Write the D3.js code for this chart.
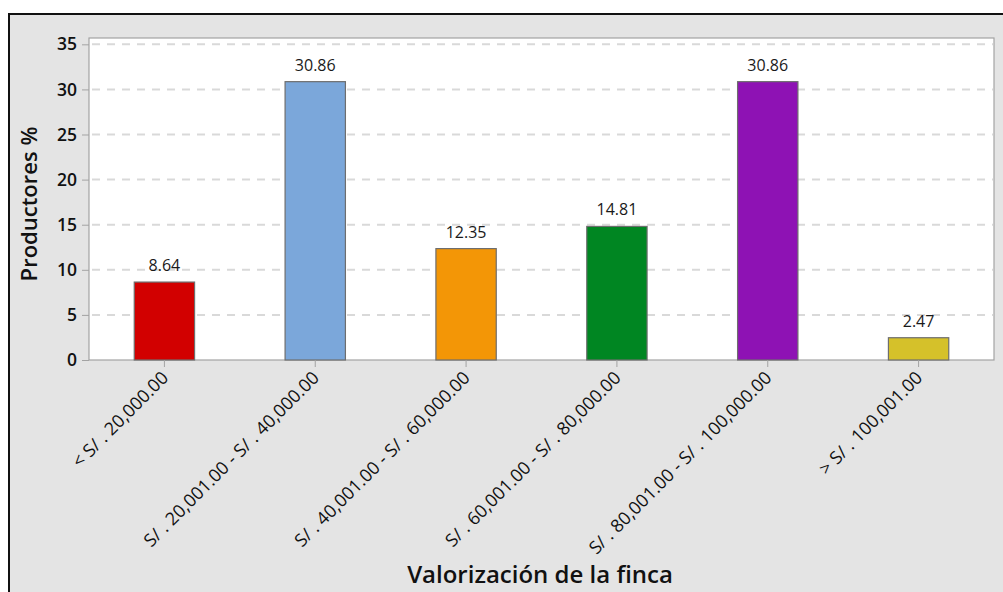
<!DOCTYPE html>
<html lang="es">
<head>
<meta charset="UTF-8">
<title>Valorización de la finca</title>
<script src="https://cdn.jsdelivr.net/npm/d3@7"></script>
<style>
  body { margin: 0; background: #fff; }
  svg { display: block; font-family: "Open Sans", "Noto Sans", sans-serif; }
</style>
</head>
<body>
<svg id="chart" width="1003" height="592"></svg>
<script>
// data
const categories = [
    "< S/ . 20,000.00",
    "S/ . 20,001.00 - S/ . 40,000.00",
    "S/ . 40,001.00 - S/ . 60,000.00",
    "S/ . 60,001.00 - S/ . 80,000.00",
    "S/ . 80,001.00 - S/ . 100,000.00",
    "> S/ . 100,001.00"
];
const values = [8.64, 30.86, 12.35, 14.81, 30.86, 2.47];
const barColors = ["#d20000", "#7ba7da", "#f39606", "#008622", "#8e12b4", "#d5c12a"];
const yTicks = [0, 5, 10, 15, 20, 25, 30, 35];

const svg = d3.select('#chart');
const plot = { left: 89, right: 994, top: 38, bottom: 360 };

// outer gray panel with the black frame
svg.append('rect')
    .attr('x', 9).attr('y', 14)
    .attr('width', 1010).attr('height', 600)
    .attr('fill', '#e4e4e4')
    .attr('stroke', '#111')
    .attr('stroke-width', 2);

const x = d3.scaleBand()
    .domain(categories)
    .range([plot.left, plot.right])
    .paddingInner(0.6)
    .paddingOuter(0.3);

const y = d3.scaleLinear()
    .domain([0, 35.7])
    .range([plot.bottom, plot.top]);

// plot area
svg.append('rect')
    .attr('x', plot.left).attr('y', plot.top)
    .attr('width', plot.right - plot.left)
    .attr('height', plot.bottom - plot.top)
    .attr('fill', '#fff')
    .attr('stroke', '#a3a3a3')
    .attr('stroke-width', 1.2);

// dashed grid
svg.append('g')
    .selectAll('line')
    .data(yTicks.filter(d => d > 0))
    .join('line')
    .attr('x1', plot.left + 3)
    .attr('x2', plot.right - 1)
    .attr('y1', d => y(d))
    .attr('y2', d => y(d))
    .attr('stroke', '#d9d9d9')
    .attr('stroke-width', 2)
    .attr('stroke-dasharray', '8,7');

// bars
svg.append('g')
    .selectAll('rect')
    .data(values)
    .join('rect')
    .attr('x', (d, i) => x(categories[i]))
    .attr('width', x.bandwidth())
    .attr('y', d => y(d))
    .attr('height', d => y(0) - y(d))
    .attr('fill', (d, i) => barColors[i])
    .attr('stroke', '#6e6e6e')
    .attr('stroke-width', 1.2);

// value labels
svg.append('g')
    .selectAll('text')
    .data(values)
    .join('text')
    .attr('x', (d, i) => x(categories[i]) + x.bandwidth() / 2)
    .attr('y', d => y(d) - 11)
    .attr('text-anchor', 'middle')
    .attr('font-size', 16)
    .attr('fill', '#1a1a1a')
    .text(d => d.toFixed(2));

// y axis
const yAxis = svg.append('g')
    .attr('transform', `translate(${plot.left},0)`)
    .call(d3.axisLeft(y).tickValues(yTicks).tickSize(7).tickPadding(5));
yAxis.select('.domain').remove();
yAxis.selectAll('.tick line').attr('stroke', '#a3a3a3');
yAxis.selectAll('.tick text')
    .attr('font-size', 17.5)
    .attr('font-weight', 600)
    .attr('fill', '#111')
    .attr('font-family', '"Open Sans", sans-serif');

// x axis
const xAxis = svg.append('g')
    .attr('transform', `translate(0,${plot.bottom})`)
    .call(d3.axisBottom(x).tickSize(7).tickSizeOuter(0));
xAxis.select('.domain').remove();
xAxis.selectAll('.tick line').attr('stroke', '#a3a3a3');
xAxis.selectAll('.tick text')
    .attr('font-size', 18)
    .attr('fill', '#111')
    .attr('font-family', '"Open Sans", sans-serif')
    .attr('text-anchor', 'end')
    .attr('dy', null)
    .attr('y', 0)
    .attr('transform', 'translate(5,19) rotate(-45)');

// axis titles
svg.append('text')
    .attr('x', 540)
    .attr('y', 583)
    .attr('text-anchor', 'middle')
    .attr('font-size', 24)
    .attr('font-weight', 600)
    .attr('fill', '#111')
    .text('Valorización de la finca');

svg.append('text')
    .attr('transform', `translate(37,${(plot.top + plot.bottom) / 2 + 5}) rotate(-90)`)
    .attr('text-anchor', 'middle')
    .attr('font-size', 22)
    .attr('font-weight', 600)
    .attr('fill', '#111')
    .text('Productores %');
</script>
</body>
</html>
